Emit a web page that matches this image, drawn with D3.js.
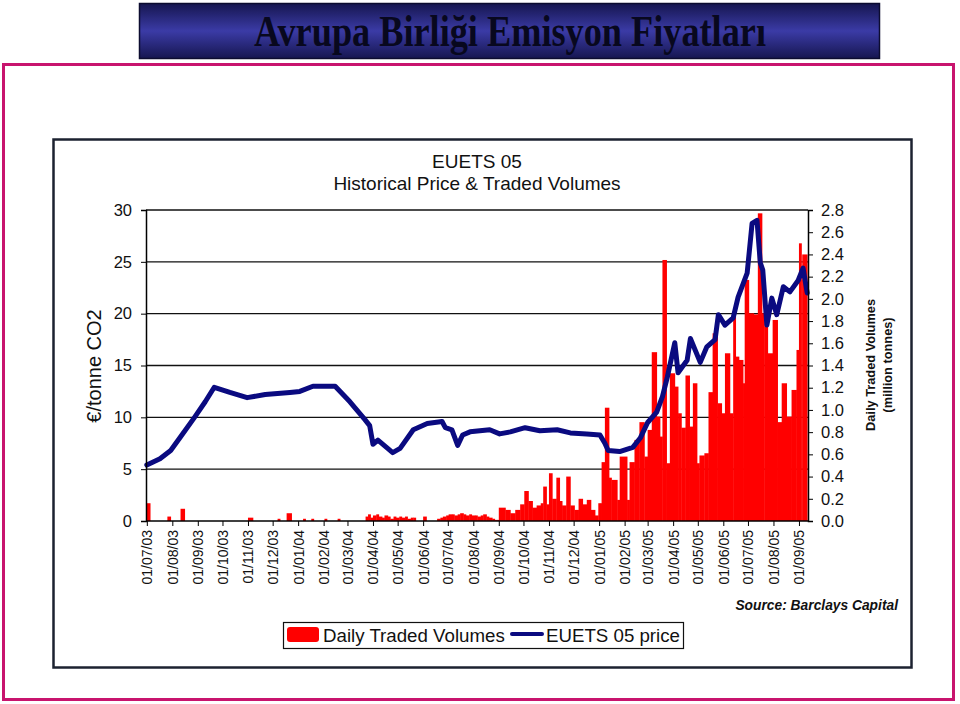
<!DOCTYPE html>
<html>
<head>
<meta charset="utf-8">
<script src="https://cdn.jsdelivr.net/npm/d3@7"></script>
<style>
  body { margin: 0; background: #fff; }
  svg text { font-family: "Liberation Sans", Arial, sans-serif; }
</style>
</head>
<body>
<div id="chart"></div>
<script>
// data
var priceDates = ["2003-07-01","2003-07-17","2003-07-30","2003-08-10","2003-08-28","2003-09-10","2003-09-21",
  "2003-10-10","2003-10-31","2003-11-22","2003-12-22","2004-01-03","2004-01-19","2004-02-15","2004-03-04",
  "2004-03-22","2004-03-28","2004-04-01","2004-04-07","2004-04-16","2004-04-25","2004-05-04","2004-05-20",
  "2004-06-06","2004-06-24","2004-06-28","2004-07-06","2004-07-13","2004-07-19","2004-07-28","2004-08-21",
  "2004-09-02","2004-09-15","2004-10-03","2004-10-21","2004-11-11","2004-11-27","2004-12-17","2005-01-02",
  "2005-01-08","2005-01-12","2005-01-26","2005-02-11","2005-02-20","2005-03-01","2005-03-12","2005-03-19",
  "2005-03-25","2005-04-03","2005-04-07","2005-04-18","2005-04-22","2005-05-04","2005-05-12","2005-05-22",
  "2005-05-26","2005-06-03","2005-06-13","2005-06-19","2005-06-30","2005-07-06","2005-07-12","2005-07-16",
  "2005-07-19","2005-07-24","2005-07-30","2005-08-05","2005-08-13","2005-08-21","2005-08-31","2005-09-06",
  "2005-09-11"];
var priceValues = [5.4,6.0,6.8,8.0,10.0,11.5,12.9,
  12.4,11.9,12.2,12.4,12.5,13.0,13.0,11.5,
  9.8,9.2,7.4,7.8,7.2,6.6,7.0,8.8,
  9.4,9.6,9.0,8.8,7.3,8.3,8.6,8.8,
  8.4,8.6,9.0,8.7,8.8,8.5,8.4,8.3,
  7.5,6.8,6.7,7.1,8.0,9.5,10.5,12.0,
  13.9,17.2,14.3,15.5,17.6,15.3,16.8,17.5,
  19.9,18.9,19.6,21.6,23.9,28.7,29.0,24.9,
  24.2,18.9,21.5,19.9,22.6,22.1,23.2,24.4,
  22.0];

var volDates = ["2003-07-01","2003-07-05","2003-07-26","2003-07-30","2003-08-11","2003-08-16",
  "2003-11-01","2003-11-07","2003-12-07","2003-12-10","2003-12-18","2003-12-24",
  "2004-01-07","2004-01-10","2004-01-17","2004-01-20","2004-02-02","2004-02-05","2004-02-18","2004-02-21",
  "2004-03-23","2004-03-26","2004-03-29","2004-04-01","2004-04-05","2004-04-08","2004-04-12","2004-04-15",
  "2004-04-19","2004-04-22","2004-04-26","2004-04-29","2004-05-03","2004-05-06","2004-05-10","2004-05-13",
  "2004-05-17","2004-05-20","2004-05-23","2004-06-01","2004-06-05",
  "2004-06-18","2004-06-22","2004-06-25","2004-06-29","2004-07-02","2004-07-06","2004-07-09","2004-07-13",
  "2004-07-16","2004-07-20","2004-07-23","2004-07-27","2004-07-30","2004-08-03","2004-08-06","2004-08-10",
  "2004-08-13","2004-08-17","2004-08-20","2004-08-24","2004-08-27","2004-08-30",
  "2004-09-01","2004-09-09","2004-09-15","2004-09-21","2004-09-27","2004-10-02","2004-10-07","2004-10-12",
  "2004-10-17","2004-10-22","2004-10-25","2004-10-29","2004-11-01","2004-11-05","2004-11-10","2004-11-14",
  "2004-11-17","2004-11-22","2004-11-27","2004-12-02","2004-12-07","2004-12-12","2004-12-17","2004-12-22",
  "2004-12-27","2004-12-31",
  "2005-01-02","2005-01-04","2005-01-08","2005-01-13","2005-01-16","2005-01-23","2005-01-26","2005-02-04",
  "2005-02-07","2005-02-13","2005-02-19","2005-02-25","2005-03-01","2005-03-06","2005-03-12","2005-03-16",
  "2005-03-19","2005-03-24","2005-03-28","2005-04-03","2005-04-07","2005-04-11","2005-04-16","2005-04-21",
  "2005-04-25","2005-04-30","2005-05-03","2005-05-09","2005-05-14","2005-05-19","2005-05-25","2005-05-30",
  "2005-06-03","2005-06-09","2005-06-13","2005-06-16","2005-06-20","2005-06-25","2005-06-27","2005-07-02",
  "2005-07-08","2005-07-13","2005-07-18","2005-07-21","2005-07-25","2005-07-31","2005-08-06","2005-08-11",
  "2005-08-17","2005-08-23","2005-08-29","2005-09-01","2005-09-04","2005-09-05"];
var volValues = [0.16,0,0.04,0,0.11,0,
  0.03,0,0.02,0,0.07,0,
  0.02,0,0.02,0,0.02,0,0.02,0,
  0.04,0.06,0.03,0.05,0.06,0.04,0.03,0.05,
  0.04,0.02,0.04,0.03,0.04,0.03,0.04,0.02,
  0.03,0.03,0,0.04,0,
  0.02,0.03,0.04,0.05,0.06,0.06,0.05,0.06,
  0.07,0.06,0.05,0.06,0.05,0.05,0.04,0.05,
  0.06,0.04,0.03,0.02,0.01,0.01,
  0.12,0.10,0.07,0.10,0.15,0.27,0.18,0.12,
  0.14,0.16,0.31,0.15,0.43,0.20,0.39,0.18,
  0.14,0.40,0.14,0.10,0.20,0.15,0.19,0.10,
  0.05,0.16,
  0.16,0.53,1.02,0.39,0.37,0.19,0.58,0.19,
  0.53,0.73,0.89,0.58,0.82,1.52,0.94,0.76,
  2.35,0.52,1.33,1.21,0.97,0.84,1.31,0.85,
  1.24,0.52,0.59,0.61,1.16,1.69,1.06,0.97,
  1.51,0.97,1.84,1.48,1.45,1.24,2.17,1.87,
  1.86,2.77,1.87,1.75,1.51,1.81,0.89,1.24,
  0.94,1.18,1.54,2.50,2.17,2.40];

var monthLabels = ["01/07/03","01/08/03","01/09/03","01/10/03","01/11/03","01/12/03",
  "01/01/04","01/02/04","01/03/04","01/04/04","01/05/04","01/06/04","01/07/04","01/08/04",
  "01/09/04","01/10/04","01/11/04","01/12/04","01/01/05","01/02/05","01/03/05","01/04/05",
  "01/05/05","01/06/05","01/07/05","01/08/05","01/09/05"];
var leftTicks = [0,5,10,15,20,25,30];
var rightTicks = [0,0.2,0.4,0.6,0.8,1.0,1.2,1.4,1.6,1.8,2.0,2.2,2.4,2.6,2.8];

var parse = d3.utcParse("%Y-%m-%d");
var labelParse = d3.utcParse("%d/%m/%y");

var svg = d3.select('#chart').append('svg')
  .attr('width', 960).attr('height', 704);

// banner
var defs = svg.append('defs');
var grad = defs.append('linearGradient').attr('id','banner')
  .attr('x1',0).attr('y1',0).attr('x2',0).attr('y2',1);
grad.append('stop').attr('offset','0%').attr('stop-color','#161650');
grad.append('stop').attr('offset','50%').attr('stop-color','#3b3ba6');
grad.append('stop').attr('offset','100%').attr('stop-color','#161650');

svg.append('rect').attr('x',139.5).attr('y',3.5).attr('width',740).attr('height',55)
  .attr('fill','url(#banner)').attr('stroke','#0c0c30').attr('stroke-width',1.5);
svg.append('text').attr('x',510).attr('y',46)
  .attr('text-anchor','middle')
  .attr('textLength',512).attr('lengthAdjust','spacingAndGlyphs')
  .style('font-family','"Liberation Serif", "Times New Roman", serif')
  .style('font-weight','bold').style('font-size','44px')
  .attr('fill','#08081e')
  .text('Avrupa Birliği Emisyon Fiyatları');

// pink frame and chart frame
svg.append('rect').attr('x',3.5).attr('y',64.5).attr('width',950).attr('height',635)
  .attr('fill','none').attr('stroke','#c8146e').attr('stroke-width',3);
svg.append('rect').attr('x',53.5).attr('y',139.5).attr('width',858).attr('height',528)
  .attr('fill','#fff').attr('stroke','#1c2230').attr('stroke-width',2.5);

// titles
svg.append('text').attr('x',477).attr('y',168).attr('text-anchor','middle')
  .style('font-size','19px').attr('fill','#111').text('EUETS 05');
svg.append('text').attr('x',477).attr('y',190).attr('text-anchor','middle')
  .style('font-size','19px').attr('fill','#111').text('Historical Price & Traded Volumes');

// scales
var x = d3.scaleUtc()
  .domain([parse("2003-06-30"), parse("2005-09-12")])
  .range([146, 808]);
var yL = d3.scaleLinear().domain([0,30]).range([521,210]);
var yR = d3.scaleLinear().domain([0,2.8]).range([521,210]);

// gridlines
svg.append('g').selectAll('line').data(leftTicks.slice(1)).enter().append('line')
  .attr('x1',146).attr('x2',808)
  .attr('y1',d => yL(d)).attr('y2',d => yL(d))
  .attr('stroke','#111').attr('stroke-width',1.4);

// volume bars
var vols = volDates.map((d,i) => ({date: parse(d), v: volValues[i]}));
var xEnd = x(parse("2005-09-11"));
svg.append('g').selectAll('rect')
  .data(vols.map((d,i) => ({d: d, next: i < vols.length-1 ? x(vols[i+1].date) : xEnd}))
    .filter(o => o.d.v > 0))
  .enter().append('rect')
  .attr('x', o => x(o.d.date))
  .attr('width', o => Math.max(o.next - x(o.d.date) + 0.4, 1))
  .attr('y', o => yR(o.d.v))
  .attr('height', o => yR(0) - yR(o.d.v))
  .attr('fill','#ff0000');

// price line
var prices = priceDates.map((d,i) => ({date: parse(d), v: priceValues[i]}));
var line = d3.line().x(d => x(d.date)).y(d => yL(d.v));
svg.append('path').datum(prices)
  .attr('d', line)
  .attr('fill','none')
  .attr('stroke','#0a0a80')
  .attr('stroke-width',5)
  .attr('stroke-linejoin','round')
  .attr('stroke-linecap','round');

// axes
var leftAxis = d3.axisLeft(yL).tickValues(leftTicks).tickSize(5).tickPadding(9);
var gL = svg.append('g').attr('transform','translate(146,0)').call(leftAxis);
gL.selectAll('text').style('font-size','16.5px').attr('fill','#111');

var rightAxis = d3.axisRight(yR).tickValues(rightTicks).tickSize(5).tickPadding(8)
  .tickFormat(d3.format('.1f'));
var gR = svg.append('g').attr('transform','translate(808,0)').call(rightAxis);
gR.selectAll('text').style('font-size','16.5px').attr('fill','#111');

var bottomAxis = d3.axisBottom(x)
  .tickValues(monthLabels.map(labelParse))
  .tickFormat(d3.utcFormat('%d/%m/%y'))
  .tickSize(5).tickPadding(4);
var gB = svg.append('g').attr('transform','translate(0,521)').call(bottomAxis);
gB.select('.domain').remove();
svg.append('line').attr('x1',146).attr('x2',808).attr('y1',521).attr('y2',521)
  .attr('stroke','#000').attr('stroke-width',1.5);
gB.selectAll('text')
  .style('font-size','14px').attr('fill','#111')
  .attr('text-anchor','end')
  .attr('transform','rotate(-90)')
  .attr('x',-9).attr('y',0).attr('dy','0.35em');
svg.selectAll('.domain').attr('stroke','#000').attr('stroke-width',1.5);
svg.selectAll('.tick line').attr('stroke','#000');

// axis labels
svg.append('text').attr('transform','translate(101,366) rotate(-90)')
  .attr('text-anchor','middle').style('font-size','20px').attr('fill','#111')
  .text('€/tonne CO2');
svg.append('text').attr('transform','translate(875,365) rotate(-90)')
  .attr('text-anchor','middle').style('font-size','12.8px').style('font-weight','bold')
  .attr('fill','#111').text('Daily Traded Volumes');
svg.append('text').attr('transform','translate(892,365) rotate(-90)')
  .attr('text-anchor','middle').style('font-size','12.8px').style('font-weight','bold')
  .attr('fill','#111').text('(million tonnes)');

// source
svg.append('text').attr('x',898).attr('y',610).attr('text-anchor','end')
  .style('font-size','13.8px').style('font-weight','bold').style('font-style','italic')
  .attr('fill','#111').text('Source: Barclays Capital');

// legend
var leg = svg.append('g');
leg.append('rect').attr('x',283.5).attr('y',622.5).attr('width',400).attr('height',26)
  .attr('fill','#fff').attr('stroke','#111').attr('stroke-width',1.2);
leg.append('rect').attr('x',287).attr('y',627).attr('width',32).attr('height',15).attr('rx',3)
  .attr('fill','#ff0000');
leg.append('text').attr('x',323).attr('y',642).style('font-size','18.7px').attr('fill','#111')
  .text('Daily Traded Volumes');
leg.append('line').attr('x1',512).attr('x2',542).attr('y1',634).attr('y2',634)
  .attr('stroke','#0a0a80').attr('stroke-width',4).attr('stroke-linecap','round');
leg.append('text').attr('x',546).attr('y',642).style('font-size','18.7px').attr('fill','#111')
  .text('EUETS 05 price');
</script>
</body>
</html>
